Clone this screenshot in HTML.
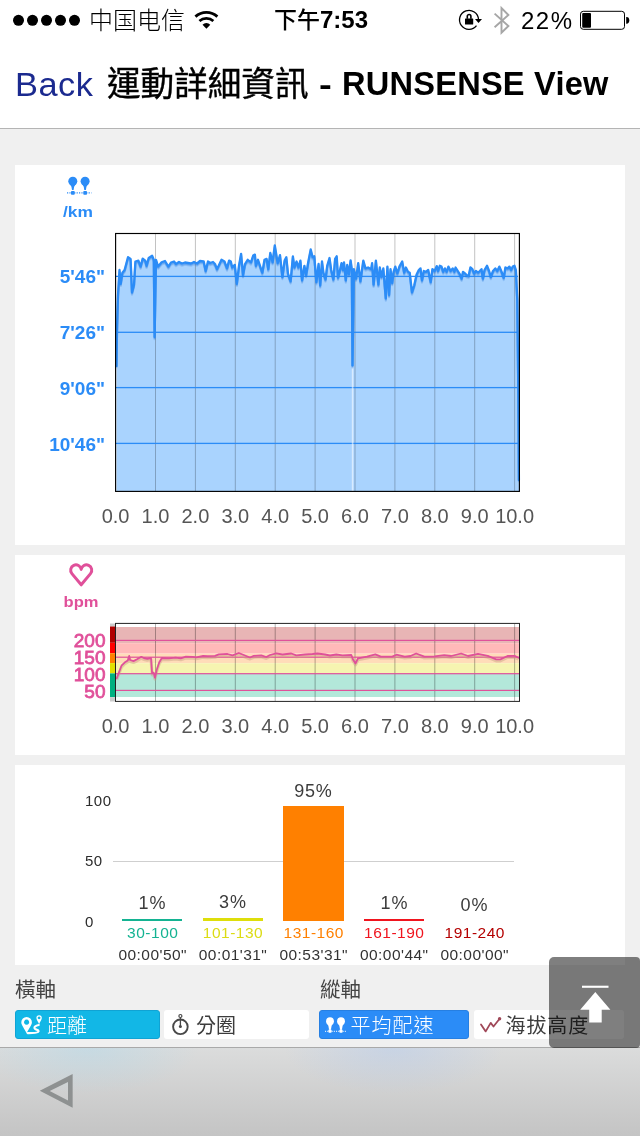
<!DOCTYPE html>
<html lang="zh-Hant"><head><meta charset="utf-8"><title>運動詳細資訊 - RUNSENSE View</title>
<style>
html,body{margin:0;padding:0}
body{width:640px;height:1136px;position:relative;overflow:hidden;background:#f0f0f0;font-family:"Liberation Sans","Noto Sans CJK TC",sans-serif;color:#000}
div{position:absolute;white-space:nowrap;box-sizing:border-box}
svg{position:absolute;left:0;top:0}
.card{left:15px;width:610px;background:#fff}
.xl{width:60px;text-align:center;font-size:20px;color:#555;line-height:22px}
.yl{font-weight:bold;font-size:19px;line-height:20px;text-align:right;width:90px;left:15px}
.pct{width:80px;text-align:center;font-size:18px;line-height:20px;color:#3c3c3c;letter-spacing:0.8px;text-indent:0.8px}
.zl{width:90px;text-align:center;font-size:15.5px;line-height:18px;letter-spacing:0.5px;text-indent:0.5px}
.tl{width:90px;text-align:center;font-size:15.5px;line-height:18px;color:#333;letter-spacing:0.45px;text-indent:0.45px}
.al{left:85px;font-size:15px;line-height:18px;color:#2c2c2c;letter-spacing:0.5px}
.btn{top:1010px;height:29px;border-radius:3px;font-size:20px;line-height:32px;overflow:hidden}
</style></head><body>
<!-- status + nav -->
<div style="left:0;top:0;width:640px;height:128px;background:#fff"></div>
<div style="left:0;top:128px;width:640px;height:1px;background:#b4b4b4"></div>
<div style="left:89px;top:6px;font-size:24px;line-height:30px;font-weight:300;font-family:'Liberation Sans','Noto Sans CJK SC',sans-serif">中国电信</div>
<div style="left:274px;top:5px;font-size:23px;line-height:30px;font-weight:bold;font-family:'Liberation Sans','Noto Sans CJK SC',sans-serif"><span style="font-weight:500">下午</span><span style="font-size:24px">7:53</span></div>
<div style="left:521px;top:6px;font-size:24px;line-height:30px;letter-spacing:1.5px">22%</div>
<div style="left:14.9px;top:64.5px;font-size:32.6px;line-height:40px;color:#1b2a8f;letter-spacing:0.5px;transform:scaleX(1.055);transform-origin:0 0">Back</div>
<div style="left:107px;top:63px;font-size:33.6px;line-height:44px;font-weight:400;-webkit-text-stroke:0.4px #000">運動詳細資訊</div>
<div style="left:319.2px;top:64px;font-size:32px;line-height:40px;font-weight:bold;transform:scaleX(1.2);transform-origin:0 0">-</div>
<div style="left:342px;top:64.2px;font-size:32.6px;line-height:40px;font-weight:bold;letter-spacing:0.22px">RUNSENSE View</div>

<!-- cards -->
<div class="card" style="top:165px;height:380px"></div>
<div class="card" style="top:555px;height:200px"></div>
<div class="card" style="top:765px;height:200px"></div>

<div style="left:48.1px;top:202.2px;width:60px;text-align:center;font-weight:bold;font-size:15.5px;line-height:20px;transform:scaleX(1.12);color:#2b8cf7">/km</div>
<div class="yl" style="top:267.3px;color:#2b8cf7">5'46"</div>
<div class="yl" style="top:323.3px;color:#2b8cf7">7'26"</div>
<div class="yl" style="top:378.8px;color:#2b8cf7">9'06"</div>
<div class="yl" style="top:434.6px;color:#2b8cf7">10'46"</div>
<div class="xl" style="left:85.6px;top:504.6px">0.0</div>
<div class="xl" style="left:125.5px;top:504.6px">1.0</div>
<div class="xl" style="left:165.39999999999998px;top:504.6px">2.0</div>
<div class="xl" style="left:205.29999999999998px;top:504.6px">3.0</div>
<div class="xl" style="left:245.2px;top:504.6px">4.0</div>
<div class="xl" style="left:285.1px;top:504.6px">5.0</div>
<div class="xl" style="left:325.0px;top:504.6px">6.0</div>
<div class="xl" style="left:364.9px;top:504.6px">7.0</div>
<div class="xl" style="left:404.79999999999995px;top:504.6px">8.0</div>
<div class="xl" style="left:444.69999999999993px;top:504.6px">9.0</div>
<div class="xl" style="left:484.6px;top:504.6px">10.0</div>

<div style="left:50.6px;top:592px;width:60px;text-align:center;font-weight:bold;font-size:15.3px;line-height:20px;transform:scaleX(1.08);color:#e0509a">bpm</div>
<div class="yl" style="top:630.6px;left:15.5px;color:#e0509a;font-size:19px;font-weight:normal;-webkit-text-stroke:0.8px #e0509a">200</div>
<div class="yl" style="top:647.6px;left:15.5px;color:#e0509a;font-size:19px;font-weight:normal;-webkit-text-stroke:0.8px #e0509a">150</div>
<div class="yl" style="top:664.6px;left:15.5px;color:#e0509a;font-size:19px;font-weight:normal;-webkit-text-stroke:0.8px #e0509a">100</div>
<div class="yl" style="top:681.6px;left:15.5px;color:#e0509a;font-size:19px;font-weight:normal;-webkit-text-stroke:0.8px #e0509a">50</div>
<div class="xl" style="left:85.6px;top:714.6px">0.0</div>
<div class="xl" style="left:125.5px;top:714.6px">1.0</div>
<div class="xl" style="left:165.39999999999998px;top:714.6px">2.0</div>
<div class="xl" style="left:205.29999999999998px;top:714.6px">3.0</div>
<div class="xl" style="left:245.2px;top:714.6px">4.0</div>
<div class="xl" style="left:285.1px;top:714.6px">5.0</div>
<div class="xl" style="left:325.0px;top:714.6px">6.0</div>
<div class="xl" style="left:364.9px;top:714.6px">7.0</div>
<div class="xl" style="left:404.79999999999995px;top:714.6px">8.0</div>
<div class="xl" style="left:444.69999999999993px;top:714.6px">9.0</div>
<div class="xl" style="left:484.6px;top:714.6px">10.0</div>

<!-- bar chart -->
<div class="al" style="top:792px">100</div>
<div class="al" style="top:852px">50</div>
<div class="al" style="top:913px">0</div>
<div style="left:113px;top:861px;width:401px;height:1px;background:#cfcfcf"></div>
<div style="left:122.2px;top:919.4px;width:60.3px;height:1.6px;background:#14b392"></div>
<div style="left:202.6px;top:917.6px;width:60.3px;height:3.6px;background:#dede0a"></div>
<div style="left:283.3px;top:806px;width:60.3px;height:115px;background:#ff8000"></div>
<div style="left:363.8px;top:919.4px;width:60.3px;height:1.6px;background:#f0141e"></div>
<div class="pct" style="left:112px;top:893px">1%</div>
<div class="pct" style="left:192.5px;top:892px">3%</div>
<div class="pct" style="left:273px;top:781px">95%</div>
<div class="pct" style="left:354px;top:893px">1%</div>
<div class="pct" style="left:434px;top:894.5px">0%</div>
<div class="zl" style="left:107.5px;top:923.6px;color:#14b392">30-100</div>
<div class="zl" style="left:187.8px;top:923.6px;color:#dcdc14">101-130</div>
<div class="zl" style="left:268.5px;top:923.6px;color:#ff8000">131-160</div>
<div class="zl" style="left:349px;top:923.6px;color:#f0141e">161-190</div>
<div class="zl" style="left:429.5px;top:923.6px;color:#b40000">191-240</div>
<div class="tl" style="left:107.5px;top:945.6px">00:00'50"</div>
<div class="tl" style="left:187.8px;top:945.6px">00:01'31"</div>
<div class="tl" style="left:268.5px;top:945.6px">00:53'31"</div>
<div class="tl" style="left:349px;top:945.6px">00:00'44"</div>
<div class="tl" style="left:429.5px;top:945.6px">00:00'00"</div>

<!-- axis selectors -->
<div style="left:15px;top:976px;font-size:20.5px;line-height:28px;color:#444">橫軸</div>
<div style="left:320px;top:976px;font-size:20.5px;line-height:28px;color:#444">縱軸</div>
<div class="btn" style="left:15px;width:145px;background:#12b7e6;border:1px solid #10a3d4;color:#fff;padding-left:31px;line-height:30px;font-weight:300">距離</div>
<div class="btn" style="left:164px;width:145px;background:#fff;color:#3c3c3c;padding-left:32px">分圈</div>
<div class="btn" style="left:319px;width:150px;background:#2b8cf7;border:1px solid #267fe2;color:#fff;padding-left:30.5px;line-height:30px;letter-spacing:1px;font-weight:300">平均配速</div>
<div class="btn" style="left:474px;width:150px;background:#fff;color:#3c3c3c;padding-left:31.5px;letter-spacing:0.9px">海拔高度</div>

<!-- bottom toolbar -->
<div style="left:0;top:1047px;width:640px;height:89px;background:radial-gradient(ellipse 110px 46px at 88px 0,rgba(165,215,238,0.38),rgba(165,215,238,0)),radial-gradient(ellipse 110px 46px at 394px 0,rgba(170,198,242,0.38),rgba(170,198,242,0)),linear-gradient(#dbdcdc,#c4c4c4);border-top:1px solid #a9a9a9"></div>
<!-- go top button -->
<div style="left:549px;top:957px;width:91px;height:90.5px;background:rgba(0,0,0,0.5);border-radius:5px 4px 4px 5px"></div>

<svg width="640" height="1136" viewBox="0 0 640 1136">
<!-- status icons -->
<g fill="#000">
<circle cx="18.5" cy="20.3" r="5.5"/><circle cx="32.5" cy="20.3" r="5.5"/><circle cx="46.5" cy="20.3" r="5.5"/><circle cx="60.5" cy="20.3" r="5.5"/><circle cx="74.5" cy="20.3" r="5.5"/>
</g>
<!-- wifi -->
<g fill="none" stroke="#000">
<path d="M195.43 16.61 A16.4 16.4 0 0 1 217.37 16.61" stroke-width="2.8"/>
<path d="M199.44 21.07 A10.4 10.4 0 0 1 213.36 21.07" stroke-width="2.7"/>
</g>
<path d="M206.4 28.8 L202.51 24.63 A5.7 5.7 0 0 1 210.29 24.63 Z" fill="#000"/>
<!-- rotation lock -->
<path d="M476.5 25.7 A9.5 9.5 0 1 1 478.5 19.3" fill="none" stroke="#000" stroke-width="1.3"/>
<path d="M467.3 18.8 V16.3 a1.8 1.8 0 0 1 3.6 0 V18.8" fill="none" stroke="#000" stroke-width="1.6"/>
<rect x="465" y="18.5" width="8.2" height="6.1" rx="0.6" fill="#000"/>
<path d="M475 19.1 L482 19.1 L478.5 23 Z" fill="#000"/>
<!-- bluetooth -->
<path d="M494.6 13.6 L508.4 26 L501.5 32.8 V8 L508.4 15 L494.6 27.2" fill="none" stroke="#a6a6a6" stroke-width="1.9" stroke-linejoin="miter"/>
<!-- battery -->
<rect x="580.5" y="11.3" width="44" height="18" rx="2.8" fill="none" stroke="#000" stroke-width="1"/>
<rect x="582.2" y="13" width="8.8" height="14.7" rx="1" fill="#000"/>
<path d="M626.2 16.9 h0.3 a2.8 3.45 0 0 1 0 6.9 h-0.3 z" fill="#000"/>

<!-- pace icon -->
<g fill="#2b8cf7">
<circle cx="72.8" cy="181.3" r="4.5"/><path d="M70.4 185 Q71.7 186.2 72 189.9 L73.6 189.9 Q73.9 186.2 75.2 185 Z"/>
<rect x="71" y="191" width="3.7" height="3.7" rx="0.8"/>
<circle cx="85.1" cy="181.3" r="4.5"/><path d="M82.7 185 Q84 186.2 84.3 189.9 L85.9 189.9 Q86.2 186.2 87.5 185 Z"/>
<rect x="83.3" y="191" width="3.7" height="3.7" rx="0.8"/>
</g>
<path d="M67 192.9 H91.4" stroke="#2b8cf7" stroke-width="1.1" stroke-dasharray="1.2 1.2" fill="none"/>
<polygon points="116.5,491.0 116.5,366.0 117.0,330.0 118.0,295.0 119.5,270.0 120.7,283.8 122.4,272.7 124.6,270.0 128.0,257.2 130.6,259.0 132.0,292.4 134.0,284.7 135.4,261.5 138.4,260.6 140.6,266.6 142.7,258.6 145.2,260.6 146.6,265.8 148.7,258.0 152.1,255.8 153.8,259.8 154.6,337.0 156.0,259.8 158.1,266.6 161.6,262.3 165.0,261.0 168.4,266.6 171.0,262.5 174.0,261.5 176.0,264.0 179.0,262.0 182.0,263.5 185.0,262.5 188.0,263.0 191.0,263.5 194.0,262.0 197.0,263.5 200.0,261.0 203.7,261.5 205.7,271.0 208.0,261.5 210.0,263.0 213.0,262.0 215.0,264.0 217.0,269.2 221.5,259.8 224.5,261.5 227.0,268.4 229.1,260.6 230.8,261.5 232.2,267.5 234.8,264.9 236.8,283.8 239.0,265.8 241.1,253.8 243.0,275.2 245.0,264.0 247.7,259.8 251.0,262.3 253.2,255.5 254.9,254.6 255.9,265.8 258.0,259.8 260.0,265.8 262.3,272.7 264.5,259.8 266.6,258.9 268.3,269.2 270.3,252.9 272.6,262.3 274.8,245.5 277.7,263.2 280.0,255.1 282.4,277.0 284.6,260.6 286.3,257.2 288.0,273.5 290.6,281.3 292.9,256.3 294.4,267.5 296.6,261.5 298.4,267.5 300.4,260.6 302.1,280.4 304.4,265.8 306.1,275.2 308.2,262.3 310.7,249.5 312.6,257.2 314.3,256.3 316.4,282.1 318.6,264.0 320.2,285.5 322.0,261.5 323.4,272.7 325.5,279.5 327.2,265.8 329.5,258.0 331.2,270.0 333.4,279.5 335.1,258.9 336.7,256.3 338.0,277.8 339.8,271.0 341.5,263.2 342.9,270.0 344.0,262.3 345.8,280.4 347.2,265.0 348.9,274.4 350.6,260.3 351.8,269.2 352.5,365.5 353.9,269.2 356.1,278.7 358.2,263.2 360.4,281.3 363.3,260.6 365.5,268.4 368.1,267.5 371.2,269.2 372.1,263.2 373.6,284.7 375.9,260.6 378.4,284.7 379.8,267.5 381.5,277.0 383.3,268.4 385.8,298.4 387.4,266.6 389.1,295.0 390.5,269.2 392.2,283.0 393.6,271.8 395.3,266.6 397.3,273.5 399.4,266.6 402.2,261.5 404.2,272.7 405.9,267.5 408.0,271.8 409.7,272.7 412.0,292.4 414.2,285.5 416.6,274.4 418.8,270.0 420.5,268.4 422.0,280.4 423.8,271.0 426.0,271.8 428.2,270.0 430.7,282.1 432.4,269.2 434.6,271.0 436.7,266.1 438.0,271.0 439.8,265.8 441.5,266.6 443.2,271.8 444.9,268.4 446.6,271.8 448.4,266.6 450.6,271.0 452.7,268.4 454.4,271.8 455.6,267.5 457.8,271.0 459.9,274.4 461.6,278.7 463.0,271.8 465.0,273.5 466.8,275.2 468.6,276.0 470.4,267.5 472.4,269.2 474.1,273.5 475.9,271.0 478.1,272.7 479.8,271.0 481.5,269.2 482.9,278.7 484.5,270.0 487.0,265.8 489.1,271.0 490.8,277.0 493.0,271.0 495.3,268.4 497.3,271.0 499.4,266.6 501.6,271.8 503.7,277.8 505.4,267.5 507.7,268.4 509.4,266.6 511.1,270.0 512.8,266.6 514.5,265.8 515.9,270.0 517.3,300.0 518.4,400.0 518.9,480.0 519.0,480.0 519.0,491.0" fill="#a9d3fe"/>
<rect x="155.0" y="234" width="1" height="257" fill="#000" opacity="0.24"/>
<rect x="194.9" y="234" width="1" height="257" fill="#000" opacity="0.24"/>
<rect x="234.8" y="234" width="1" height="257" fill="#000" opacity="0.24"/>
<rect x="274.7" y="234" width="1" height="257" fill="#000" opacity="0.24"/>
<rect x="314.6" y="234" width="1" height="257" fill="#000" opacity="0.24"/>
<rect x="354.5" y="234" width="1" height="257" fill="#000" opacity="0.24"/>
<rect x="394.4" y="234" width="1" height="257" fill="#000" opacity="0.24"/>
<rect x="434.3" y="234" width="1" height="257" fill="#000" opacity="0.24"/>
<rect x="474.2" y="234" width="1" height="257" fill="#000" opacity="0.24"/>
<rect x="514.1" y="234" width="1" height="257" fill="#000" opacity="0.24"/>
<rect x="116" y="275.75" width="402" height="1.3" fill="#2b8cf7"/>
<rect x="116" y="331.65000000000003" width="402" height="1.3" fill="#2b8cf7"/>
<rect x="116" y="386.95000000000005" width="402" height="1.3" fill="#2b8cf7"/>
<rect x="116" y="442.75" width="402" height="1.3" fill="#2b8cf7"/>
<rect x="351.8" y="366" width="1.6" height="125" fill="#fff" opacity="0.55"/>
<polyline points="116.5,368.2 117.0,332.2 118.0,297.2 119.5,272.2 120.7,286.0 122.4,274.9 124.6,272.2 128.0,259.4 130.6,261.2 132.0,294.6 134.0,286.9 135.4,263.7 138.4,262.8 140.6,268.8 142.7,260.8 145.2,262.8 146.6,268.0 148.7,260.2 152.1,258.0 153.8,262.0 154.6,339.2 156.0,262.0 158.1,268.8 161.6,264.5 165.0,263.2 168.4,268.8 171.0,264.7 174.0,263.7 176.0,266.2 179.0,264.2 182.0,265.7 185.0,264.7 188.0,265.2 191.0,265.7 194.0,264.2 197.0,265.7 200.0,263.2 203.7,263.7 205.7,273.2 208.0,263.7 210.0,265.2 213.0,264.2 215.0,266.2 217.0,271.4 221.5,262.0 224.5,263.7 227.0,270.6 229.1,262.8 230.8,263.7 232.2,269.7 234.8,267.1 236.8,286.0 239.0,268.0 241.1,256.0 243.0,277.4 245.0,266.2 247.7,262.0 251.0,264.5 253.2,257.7 254.9,256.8 255.9,268.0 258.0,262.0 260.0,268.0 262.3,274.9 264.5,262.0 266.6,261.1 268.3,271.4 270.3,255.1 272.6,264.5 274.8,247.7 277.7,265.4 280.0,257.3 282.4,279.2 284.6,262.8 286.3,259.4 288.0,275.7 290.6,283.5 292.9,258.5 294.4,269.7 296.6,263.7 298.4,269.7 300.4,262.8 302.1,282.6 304.4,268.0 306.1,277.4 308.2,264.5 310.7,251.7 312.6,259.4 314.3,258.5 316.4,284.3 318.6,266.2 320.2,287.7 322.0,263.7 323.4,274.9 325.5,281.7 327.2,268.0 329.5,260.2 331.2,272.2 333.4,281.7 335.1,261.1 336.7,258.5 338.0,280.0 339.8,273.2 341.5,265.4 342.9,272.2 344.0,264.5 345.8,282.6 347.2,267.2 348.9,276.6 350.6,262.5 351.8,271.4 352.5,367.7 353.9,271.4 356.1,280.9 358.2,265.4 360.4,283.5 363.3,262.8 365.5,270.6 368.1,269.7 371.2,271.4 372.1,265.4 373.6,286.9 375.9,262.8 378.4,286.9 379.8,269.7 381.5,279.2 383.3,270.6 385.8,300.6 387.4,268.8 389.1,297.2 390.5,271.4 392.2,285.2 393.6,274.0 395.3,268.8 397.3,275.7 399.4,268.8 402.2,263.7 404.2,274.9 405.9,269.7 408.0,274.0 409.7,274.9 412.0,294.6 414.2,287.7 416.6,276.6 418.8,272.2 420.5,270.6 422.0,282.6 423.8,273.2 426.0,274.0 428.2,272.2 430.7,284.3 432.4,271.4 434.6,273.2 436.7,268.3 438.0,273.2 439.8,268.0 441.5,268.8 443.2,274.0 444.9,270.6 446.6,274.0 448.4,268.8 450.6,273.2 452.7,270.6 454.4,274.0 455.6,269.7 457.8,273.2 459.9,276.6 461.6,280.9 463.0,274.0 465.0,275.7 466.8,277.4 468.6,278.2 470.4,269.7 472.4,271.4 474.1,275.7 475.9,273.2 478.1,274.9 479.8,273.2 481.5,271.4 482.9,280.9 484.5,272.2 487.0,268.0 489.1,273.2 490.8,279.2 493.0,273.2 495.3,270.6 497.3,273.2 499.4,268.8 501.6,274.0 503.7,280.0 505.4,269.7 507.7,270.6 509.4,268.8 511.1,272.2 512.8,268.8 514.5,268.0 515.9,272.2 517.3,302.2 518.4,402.2 518.9,482.2" fill="none" stroke="#1a6fd6" stroke-opacity="0.2" stroke-width="2.2" stroke-linejoin="round"/>
<polyline points="116.5,367.1 117.0,331.1 118.0,296.1 119.5,271.1 120.7,284.9 122.4,273.8 124.6,271.1 128.0,258.3 130.6,260.1 132.0,293.5 134.0,285.8 135.4,262.6 138.4,261.7 140.6,267.7 142.7,259.7 145.2,261.7 146.6,266.9 148.7,259.1 152.1,256.9 153.8,260.9 154.6,338.1 156.0,260.9 158.1,267.7 161.6,263.4 165.0,262.1 168.4,267.7 171.0,263.6 174.0,262.6 176.0,265.1 179.0,263.1 182.0,264.6 185.0,263.6 188.0,264.1 191.0,264.6 194.0,263.1 197.0,264.6 200.0,262.1 203.7,262.6 205.7,272.1 208.0,262.6 210.0,264.1 213.0,263.1 215.0,265.1 217.0,270.3 221.5,260.9 224.5,262.6 227.0,269.5 229.1,261.7 230.8,262.6 232.2,268.6 234.8,266.0 236.8,284.9 239.0,266.9 241.1,254.9 243.0,276.3 245.0,265.1 247.7,260.9 251.0,263.4 253.2,256.6 254.9,255.7 255.9,266.9 258.0,260.9 260.0,266.9 262.3,273.8 264.5,260.9 266.6,260.0 268.3,270.3 270.3,254.0 272.6,263.4 274.8,246.6 277.7,264.3 280.0,256.2 282.4,278.1 284.6,261.7 286.3,258.3 288.0,274.6 290.6,282.4 292.9,257.4 294.4,268.6 296.6,262.6 298.4,268.6 300.4,261.7 302.1,281.5 304.4,266.9 306.1,276.3 308.2,263.4 310.7,250.6 312.6,258.3 314.3,257.4 316.4,283.2 318.6,265.1 320.2,286.6 322.0,262.6 323.4,273.8 325.5,280.6 327.2,266.9 329.5,259.1 331.2,271.1 333.4,280.6 335.1,260.0 336.7,257.4 338.0,278.9 339.8,272.1 341.5,264.3 342.9,271.1 344.0,263.4 345.8,281.5 347.2,266.1 348.9,275.5 350.6,261.4 351.8,270.3 352.5,366.6 353.9,270.3 356.1,279.8 358.2,264.3 360.4,282.4 363.3,261.7 365.5,269.5 368.1,268.6 371.2,270.3 372.1,264.3 373.6,285.8 375.9,261.7 378.4,285.8 379.8,268.6 381.5,278.1 383.3,269.5 385.8,299.5 387.4,267.7 389.1,296.1 390.5,270.3 392.2,284.1 393.6,272.9 395.3,267.7 397.3,274.6 399.4,267.7 402.2,262.6 404.2,273.8 405.9,268.6 408.0,272.9 409.7,273.8 412.0,293.5 414.2,286.6 416.6,275.5 418.8,271.1 420.5,269.5 422.0,281.5 423.8,272.1 426.0,272.9 428.2,271.1 430.7,283.2 432.4,270.3 434.6,272.1 436.7,267.2 438.0,272.1 439.8,266.9 441.5,267.7 443.2,272.9 444.9,269.5 446.6,272.9 448.4,267.7 450.6,272.1 452.7,269.5 454.4,272.9 455.6,268.6 457.8,272.1 459.9,275.5 461.6,279.8 463.0,272.9 465.0,274.6 466.8,276.3 468.6,277.1 470.4,268.6 472.4,270.3 474.1,274.6 475.9,272.1 478.1,273.8 479.8,272.1 481.5,270.3 482.9,279.8 484.5,271.1 487.0,266.9 489.1,272.1 490.8,278.1 493.0,272.1 495.3,269.5 497.3,272.1 499.4,267.7 501.6,272.9 503.7,278.9 505.4,268.6 507.7,269.5 509.4,267.7 511.1,271.1 512.8,267.7 514.5,266.9 515.9,271.1 517.3,301.1 518.4,401.1 518.9,481.1" fill="none" stroke="#1a6fd6" stroke-opacity="0.3" stroke-width="2.2" stroke-linejoin="round"/>
<polyline points="116.5,366.0 117.0,330.0 118.0,295.0 119.5,270.0 120.7,283.8 122.4,272.7 124.6,270.0 128.0,257.2 130.6,259.0 132.0,292.4 134.0,284.7 135.4,261.5 138.4,260.6 140.6,266.6 142.7,258.6 145.2,260.6 146.6,265.8 148.7,258.0 152.1,255.8 153.8,259.8 154.6,337.0 156.0,259.8 158.1,266.6 161.6,262.3 165.0,261.0 168.4,266.6 171.0,262.5 174.0,261.5 176.0,264.0 179.0,262.0 182.0,263.5 185.0,262.5 188.0,263.0 191.0,263.5 194.0,262.0 197.0,263.5 200.0,261.0 203.7,261.5 205.7,271.0 208.0,261.5 210.0,263.0 213.0,262.0 215.0,264.0 217.0,269.2 221.5,259.8 224.5,261.5 227.0,268.4 229.1,260.6 230.8,261.5 232.2,267.5 234.8,264.9 236.8,283.8 239.0,265.8 241.1,253.8 243.0,275.2 245.0,264.0 247.7,259.8 251.0,262.3 253.2,255.5 254.9,254.6 255.9,265.8 258.0,259.8 260.0,265.8 262.3,272.7 264.5,259.8 266.6,258.9 268.3,269.2 270.3,252.9 272.6,262.3 274.8,245.5 277.7,263.2 280.0,255.1 282.4,277.0 284.6,260.6 286.3,257.2 288.0,273.5 290.6,281.3 292.9,256.3 294.4,267.5 296.6,261.5 298.4,267.5 300.4,260.6 302.1,280.4 304.4,265.8 306.1,275.2 308.2,262.3 310.7,249.5 312.6,257.2 314.3,256.3 316.4,282.1 318.6,264.0 320.2,285.5 322.0,261.5 323.4,272.7 325.5,279.5 327.2,265.8 329.5,258.0 331.2,270.0 333.4,279.5 335.1,258.9 336.7,256.3 338.0,277.8 339.8,271.0 341.5,263.2 342.9,270.0 344.0,262.3 345.8,280.4 347.2,265.0 348.9,274.4 350.6,260.3 351.8,269.2 352.5,365.5 353.9,269.2 356.1,278.7 358.2,263.2 360.4,281.3 363.3,260.6 365.5,268.4 368.1,267.5 371.2,269.2 372.1,263.2 373.6,284.7 375.9,260.6 378.4,284.7 379.8,267.5 381.5,277.0 383.3,268.4 385.8,298.4 387.4,266.6 389.1,295.0 390.5,269.2 392.2,283.0 393.6,271.8 395.3,266.6 397.3,273.5 399.4,266.6 402.2,261.5 404.2,272.7 405.9,267.5 408.0,271.8 409.7,272.7 412.0,292.4 414.2,285.5 416.6,274.4 418.8,270.0 420.5,268.4 422.0,280.4 423.8,271.0 426.0,271.8 428.2,270.0 430.7,282.1 432.4,269.2 434.6,271.0 436.7,266.1 438.0,271.0 439.8,265.8 441.5,266.6 443.2,271.8 444.9,268.4 446.6,271.8 448.4,266.6 450.6,271.0 452.7,268.4 454.4,271.8 455.6,267.5 457.8,271.0 459.9,274.4 461.6,278.7 463.0,271.8 465.0,273.5 466.8,275.2 468.6,276.0 470.4,267.5 472.4,269.2 474.1,273.5 475.9,271.0 478.1,272.7 479.8,271.0 481.5,269.2 482.9,278.7 484.5,270.0 487.0,265.8 489.1,271.0 490.8,277.0 493.0,271.0 495.3,268.4 497.3,271.0 499.4,266.6 501.6,271.8 503.7,277.8 505.4,267.5 507.7,268.4 509.4,266.6 511.1,270.0 512.8,266.6 514.5,265.8 515.9,270.0 517.3,300.0 518.4,400.0 518.9,480.0" fill="none" stroke="#2b8cf7" stroke-width="2.3" stroke-linejoin="round" stroke-linecap="round"/>
<rect x="115.6" y="233.5" width="403.8" height="257.9" fill="none" stroke="#000" stroke-width="1.15"/>
<!-- heart -->
<path d="M81.2 584.8 L71.9 573.6 A5.3 5.3 0 1 1 81.2 569.4 A5.3 5.3 0 1 1 90.5 573.6 Z" fill="none" stroke="#e0509a" stroke-width="3" stroke-linejoin="round"/>
<rect x="116" y="627" width="403" height="16.2" fill="#e8b5b5"/>
<rect x="116" y="643.2" width="403" height="10.4" fill="#ffb9b9"/>
<rect x="116" y="653.6" width="403" height="9.6" fill="#ffdcb9"/>
<rect x="116" y="663.2" width="403" height="10.1" fill="#f6f4b1"/>
<rect x="116" y="673.3" width="403" height="23.7" fill="#b3e8da"/>
<rect x="110" y="623.5" width="5.5" height="3.0" fill="#cccccc"/>
<rect x="110" y="626.5" width="5.5" height="16.3" fill="#b00000"/>
<rect x="110" y="642.8" width="5.5" height="10.4" fill="#ff0000"/>
<rect x="110" y="653.2" width="5.5" height="9.9" fill="#ff8000"/>
<rect x="110" y="663.1" width="5.5" height="10.3" fill="#e0e000"/>
<rect x="110" y="673.4" width="5.5" height="23.8" fill="#00b080"/>
<rect x="110" y="697.2" width="5.5" height="4.3" fill="#cccccc"/>
<rect x="155.0" y="624" width="1" height="77" fill="#000" opacity="0.3"/>
<rect x="194.9" y="624" width="1" height="77" fill="#000" opacity="0.3"/>
<rect x="234.8" y="624" width="1" height="77" fill="#000" opacity="0.3"/>
<rect x="274.7" y="624" width="1" height="77" fill="#000" opacity="0.3"/>
<rect x="314.6" y="624" width="1" height="77" fill="#000" opacity="0.3"/>
<rect x="354.5" y="624" width="1" height="77" fill="#000" opacity="0.3"/>
<rect x="394.4" y="624" width="1" height="77" fill="#000" opacity="0.3"/>
<rect x="434.3" y="624" width="1" height="77" fill="#000" opacity="0.3"/>
<rect x="474.2" y="624" width="1" height="77" fill="#000" opacity="0.3"/>
<rect x="514.1" y="624" width="1" height="77" fill="#000" opacity="0.3"/>
<rect x="116" y="639.8" width="403" height="1.2" fill="#e0509a"/>
<rect x="116" y="656.6" width="403" height="1.2" fill="#e0509a"/>
<rect x="116" y="673.1" width="403" height="1.2" fill="#e0509a"/>
<rect x="116" y="689.8" width="403" height="1.2" fill="#e0509a"/>
<polyline points="116.8,679.8 118.9,674.1 121.5,667.2 124.9,663.8 127.8,662.0 129.2,657.4 130.1,661.5 133.5,662.6 137.0,660.8 141.3,658.3 143.8,659.5 147.3,660.3 151.0,659.5 152.1,674.9 153.6,674.1 155.0,679.2 156.7,671.5 159.3,663.8 161.9,659.5 168.8,659.8 175.6,659.1 180.8,659.8 185.9,658.1 192.8,658.3 196.3,658.8 203.1,657.4 207.5,657.7 215.0,657.3 218.8,655.8 227.5,655.5 232.5,656.8 238.8,654.5 243.8,656.5 250.0,659.0 253.8,657.3 261.3,656.8 266.3,658.5 270.0,656.5 276.3,654.8 282.5,656.0 291.3,655.0 296.3,656.8 305.0,656.0 312.5,655.5 317.5,655.0 325.0,656.0 330.0,657.0 336.3,656.0 342.5,656.8 351.3,656.5 353.0,661.0 355.5,665.0 358.0,659.8 366.9,658.1 375.3,655.9 380.9,658.1 392.2,658.1 396.4,656.2 404.8,658.1 410.5,657.5 416.1,655.0 424.5,658.1 434.4,657.8 444.2,656.7 451.2,657.5 461.1,655.0 468.1,657.5 478.0,655.3 487.8,657.3 496.2,660.9 500.4,660.9 507.5,657.5 514.5,657.3 518.5,659.2" fill="none" stroke="#c8a080" stroke-opacity="0.45" stroke-width="3" stroke-linejoin="round"/>
<polyline points="116.8,678.3 118.9,672.6 121.5,665.7 124.9,662.3 127.8,660.5 129.2,655.9 130.1,660.0 133.5,661.1 137.0,659.3 141.3,656.8 143.8,658.0 147.3,658.8 151.0,658.0 152.1,673.4 153.6,672.6 155.0,677.7 156.7,670.0 159.3,662.3 161.9,658.0 168.8,658.3 175.6,657.6 180.8,658.3 185.9,656.6 192.8,656.8 196.3,657.3 203.1,655.9 207.5,656.2 215.0,655.8 218.8,654.3 227.5,654.0 232.5,655.3 238.8,653.0 243.8,655.0 250.0,657.5 253.8,655.8 261.3,655.3 266.3,657.0 270.0,655.0 276.3,653.3 282.5,654.5 291.3,653.5 296.3,655.3 305.0,654.5 312.5,654.0 317.5,653.5 325.0,654.5 330.0,655.5 336.3,654.5 342.5,655.3 351.3,655.0 353.0,659.5 355.5,663.5 358.0,658.3 366.9,656.6 375.3,654.4 380.9,656.6 392.2,656.6 396.4,654.7 404.8,656.6 410.5,656.0 416.1,653.5 424.5,656.6 434.4,656.3 444.2,655.2 451.2,656.0 461.1,653.5 468.1,656.0 478.0,653.8 487.8,655.8 496.2,659.4 500.4,659.4 507.5,656.0 514.5,655.8 518.5,657.7" fill="none" stroke="#e0509a" stroke-width="1.8" stroke-linejoin="round" stroke-linecap="round"/>
<rect x="115.5" y="623.4" width="404" height="78" fill="none" stroke="#222" stroke-width="1"/>

<!-- button icons -->
<!-- distance icon -->
<g fill="#fff" stroke="none">
<path d="M26.6 1016.9 a5.3 5.3 0 0 1 5.3 5.3 c0 3 -3.1 6.2 -5.3 11 c-2.2 -4.8 -5.3 -8 -5.3 -11 a5.3 5.3 0 0 1 5.3 -5.3 z m0 2.7 a2.6 2.6 0 1 0 0.01 0 z" fill-rule="evenodd"/>
<path d="M39.1 1015.2 a2.7 2.7 0 0 1 2.7 2.7 c0 1.7 -1.6 3.3 -2.7 6.4 c-1.1 -3.1 -2.7 -4.7 -2.7 -6.4 a2.7 2.7 0 0 1 2.7 -2.7 z m0 1.3 a1.4 1.4 0 1 0 0.01 0 z" fill-rule="evenodd"/>
</g>
<path d="M38.8 1025 C35.5 1025.6 33.4 1027.4 35 1028.8 C36.6 1030 40 1030.2 38 1032 C36.4 1033.2 31 1033.1 27.6 1033.1" fill="none" stroke="#fff" stroke-width="2.1" stroke-linecap="round"/>
<!-- stopwatch -->
<g fill="none" stroke="#484848" stroke-width="1.9">
<circle cx="180.4" cy="1026.8" r="7.3"/>
<circle cx="180.4" cy="1016" r="1.5" stroke-width="1.2"/>
<path d="M180.4 1017.6 V1026.5" stroke-width="1.3"/>
</g>
<circle cx="180.4" cy="1026.6" r="1.5" fill="#484848"/>
<!-- pace icon white -->
<g fill="#fff">
<circle cx="330" cy="1021.2" r="3.9"/><path d="M327.6 1024.1 Q328.8 1026.1 329.1 1029.8 L330.9 1029.8 Q331.2 1026.1 332.4 1024.1 Z"/>
<rect x="328.4" y="1029.6" width="3.2" height="3.2" rx="0.8"/>
<circle cx="341" cy="1021.2" r="3.9"/><path d="M338.6 1024.1 Q339.8 1026.1 340.1 1029.8 L341.9 1029.8 Q342.2 1026.1 343.4 1024.1 Z"/>
<rect x="339.4" y="1029.6" width="3.2" height="3.2" rx="0.8"/>
</g>
<path d="M325 1031.3 H346.4" stroke="#fff" stroke-width="1" stroke-dasharray="1.1 1.1" fill="none"/>
<!-- altitude icon -->
<path d="M481 1024.4 L485.7 1031.4 L490.7 1022.9 L493.5 1026.5 L499.4 1019" fill="none" stroke="#a04858" stroke-width="1.8" stroke-linejoin="round" stroke-linecap="round"/>
<circle cx="499.6" cy="1018.8" r="1.7" fill="#a04858"/>
<!-- back triangle -->
<path d="M39.8 1090.8 L72.65 1073.9 V1107.65 Z M49.7 1090.9 L68 1081.9 V1100.4 Z" fill="#8e9191" fill-rule="evenodd"/>
</svg>
<!-- overlay arrow above button -->
<svg width="640" height="1136" viewBox="0 0 640 1136" style="z-index:5">
<rect x="582" y="985.7" width="26.5" height="2.1" fill="#fff"/>
<path d="M595.3 992 L610.4 1009.7 H601.7 V1022.5 H589.2 V1009.7 H580.2 Z" fill="#fff"/>
</svg>
</body></html>
